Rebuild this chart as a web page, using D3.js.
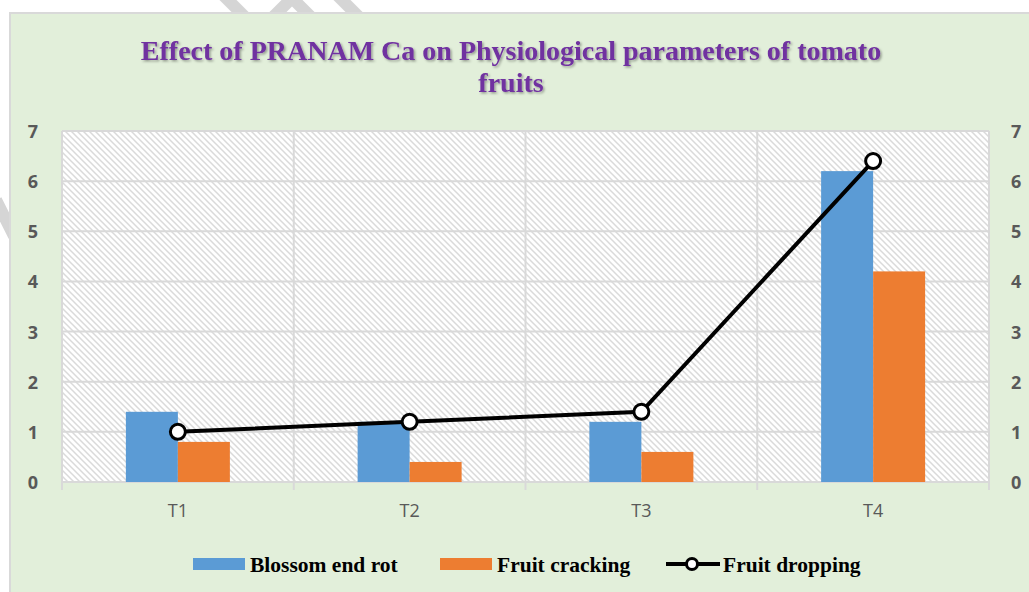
<!DOCTYPE html>
<html>
<head>
<meta charset="utf-8">
<script src="https://cdn.jsdelivr.net/npm/d3@7"></script>
<style>
  html, body { margin: 0; padding: 0; background: #ffffff; }
  svg { display: block; }
</style>
</head>
<body>
<svg id="chart" width="1029" height="592"></svg>
<script>
const categories = ["T1", "T2", "T3", "T4"];
const blossomEndRot = [1.4, 1.2, 1.2, 6.2];
const fruitCracking = [0.8, 0.4, 0.6, 4.2];
const fruitDropping = [1.0, 1.2, 1.4, 6.4];
const yTicks = [0, 1, 2, 3, 4, 5, 6, 7];
const titleLines = ["Effect of PRANAM Ca on Physiological parameters of tomato", "fruits"];
const seriesNames = ["Blossom end rot", "Fruit cracking", "Fruit dropping"];

const svg = d3.select("#chart");
const W = 1029, H = 592;
const defs = svg.append("defs");

// hatch pattern
const pat = defs.append("pattern").attr("id", "hatch")
  .attr("patternUnits", "userSpaceOnUse").attr("width", 6).attr("height", 6);
pat.append("rect").attr("width", 6).attr("height", 6).attr("fill", "#ffffff");
pat.append("path").attr("d", "M0,0 L6,6 M-3,3 L3,9 M3,-3 L9,3")
  .attr("stroke", "#dadada").attr("stroke-width", 1.5);

const sh = defs.append("filter").attr("id", "shadow").attr("x", "-5%").attr("y", "-20%").attr("width", "110%").attr("height", "150%");
sh.append("feDropShadow").attr("dx", 1.5).attr("dy", 1.5).attr("stdDeviation", 1)
  .attr("flood-color", "#000").attr("flood-opacity", 0.35);

// watermark fragments in the white margin
const wm = svg.append("g").attr("stroke", "#d5d5d5").attr("stroke-width", 12).attr("fill", "none");
wm.append("path").attr("d", "M222,-6 L246,18");
wm.append("path").attr("d", "M272,18 L292,-2 L312,18");
wm.append("path").attr("d", "M336,-6 L360,18");
wm.append("path").attr("d", "M-4,200 L14,236");

// chart background
svg.append("rect").attr("x", 10).attr("y", 13).attr("width", W - 10 + 5).attr("height", H - 13 + 5)
  .attr("fill", "#e2efda").attr("stroke", "#d9d9d9").attr("stroke-width", 2);

const plot = { left: 62, right: 989, top: 131, bottom: 482 };

const x = d3.scaleBand().domain(categories).range([plot.left, plot.right]).paddingInner(0).paddingOuter(0);
const groupW = 104;
const xs = d3.scaleBand().domain(["b", "c"]).range([0, groupW]).padding(0);
const y = d3.scaleLinear().domain([0, 7]).range([plot.bottom, plot.top]);

// plot area
svg.append("rect").attr("x", plot.left).attr("y", plot.top)
  .attr("width", plot.right - plot.left).attr("height", plot.bottom - plot.top)
  .attr("fill", "url(#hatch)");

// horizontal gridlines
svg.append("g").selectAll("line").data(yTicks).join("line")
  .attr("x1", plot.left).attr("x2", plot.right)
  .attr("y1", d => y(d)).attr("y2", d => y(d))
  .attr("stroke", "#d9d9d9").attr("stroke-width", 2);

// vertical category gridlines
const bounds = categories.map(c => x(c)).concat([plot.right]);
svg.append("g").selectAll("line").data(bounds).join("line")
  .attr("x1", d => d).attr("x2", d => d)
  .attr("y1", plot.top).attr("y2", plot.bottom + 8)
  .attr("stroke", "#d9d9d9").attr("stroke-width", 2);

// bars
const barG = svg.append("g");
categories.forEach((c, i) => {
  const gx = x(c) + (x.bandwidth() - groupW) / 2;
  barG.append("rect").attr("x", gx + xs("b")).attr("width", xs.bandwidth())
    .attr("y", y(blossomEndRot[i])).attr("height", y(0) - y(blossomEndRot[i]))
    .attr("fill", "#5b9bd5");
  barG.append("rect").attr("x", gx + xs("c")).attr("width", xs.bandwidth())
    .attr("y", y(fruitCracking[i])).attr("height", y(0) - y(fruitCracking[i]))
    .attr("fill", "#ed7d31");
});

// line
const cx = c => x(c) + x.bandwidth() / 2;
svg.append("path").datum(fruitDropping)
  .attr("d", d3.line().x((d, i) => cx(categories[i])).y(d => y(d)))
  .attr("fill", "none").attr("stroke", "#000").attr("stroke-width", 4);
svg.append("g").selectAll("circle").data(fruitDropping).join("circle")
  .attr("cx", (d, i) => cx(categories[i])).attr("cy", d => y(d)).attr("r", 7.5)
  .attr("fill", "#fff").attr("stroke", "#000").attr("stroke-width", 3);

// axes
const tickFont = "'Open Sans', 'Liberation Sans', sans-serif";
const yAxisL = d3.axisLeft(y).tickValues(yTicks).tickSize(0).tickPadding(0).tickFormat(d3.format("d"));
const gL = svg.append("g").attr("transform", "translate(38,0)").call(yAxisL);
const yAxisR = d3.axisRight(y).tickValues(yTicks).tickSize(0).tickPadding(0).tickFormat(d3.format("d"));
const gR = svg.append("g").attr("transform", "translate(1011,0)").call(yAxisR);
[gL, gR].forEach(g => {
  g.select(".domain").remove();
  g.selectAll("text").attr("font-family", tickFont).attr("font-size", 18)
    .attr("font-weight", "bold").attr("fill", "#595959").attr("dy", "0.36em");
});

const xAxis = d3.axisBottom(x).tickSize(0).tickPadding(0);
const gX = svg.append("g").attr("transform", `translate(0,${plot.bottom + 22})`).call(xAxis);
gX.select(".domain").remove();
gX.selectAll("text").attr("font-family", tickFont).attr("font-size", 18)
  .attr("fill", "#595959").attr("dy", "0.71em");

// title
const title = svg.append("g").attr("filter", "url(#shadow)");
title.selectAll("text").data(titleLines).join("text")
  .attr("x", 511).attr("y", (d, i) => 60 + i * 32)
  .attr("text-anchor", "middle")
  .attr("font-family", "'Liberation Serif', 'Times New Roman', serif")
  .attr("font-weight", "bold").attr("font-size", 28)
  .attr("fill", "#7030a0")
  .text(d => d);

// legend
const legFont = "'Liberation Serif', 'Times New Roman', serif";
const leg = svg.append("g");
const legY = 564;
const legItems = [
  { name: seriesNames[0], type: "rect", color: "#5b9bd5", x: 193 },
  { name: seriesNames[1], type: "rect", color: "#ed7d31", x: 440 },
  { name: seriesNames[2], type: "line", color: "#000", x: 666 }
];
legItems.forEach(it => {
  if (it.type === "rect") {
    leg.append("rect").attr("x", it.x).attr("y", legY - 6).attr("width", 52).attr("height", 12).attr("fill", it.color);
  } else {
    leg.append("line").attr("x1", it.x).attr("x2", it.x + 54).attr("y1", legY).attr("y2", legY)
      .attr("stroke", "#000").attr("stroke-width", 4);
    leg.append("circle").attr("cx", it.x + 26).attr("cy", legY).attr("r", 5.5)
      .attr("fill", "#fff").attr("stroke", "#000").attr("stroke-width", 3);
  }
  leg.append("text").attr("x", it.x + 57).attr("y", legY).attr("dy", "0.35em")
    .attr("font-family", legFont).attr("font-weight", "bold").attr("font-size", 21.5)
    .attr("fill", "#000").text(it.name);
});
</script>
</body>
</html>
